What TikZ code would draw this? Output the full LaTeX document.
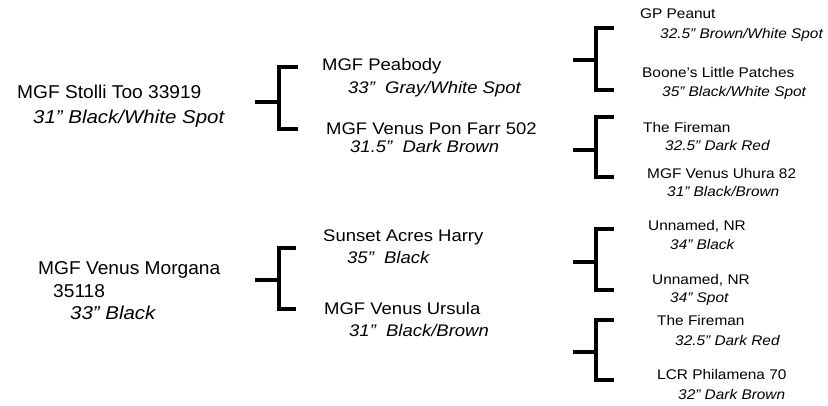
\documentclass[tikz,border=0pt]{standalone}
\usepackage{fontspec}
\setmainfont{Liberation Sans}[FakeStretch=1.1]
\newfontfamily\bigfont{Liberation Sans}[FakeStretch=1.03]
\begin{document}
\begin{tikzpicture}[x=1pt,y=-1pt,
  br/.style={line width=3.6pt, line join=miter},
  tA/.style={anchor=base west, inner sep=0pt, font=\bigfont\fontsize{18.6}{22}\selectfont},
  tAi/.style={tA, font=\fontsize{18.6}{22}\selectfont\itshape},
  tB/.style={anchor=base west, inner sep=0pt, font=\fontsize{16.8}{20}\selectfont},
  tBi/.style={tB, font=\fontsize{16.8}{20}\selectfont\itshape},
  tC/.style={anchor=base west, inner sep=0pt, font=\fontsize{14}{17}\selectfont},
  tCi/.style={tC, font=\fontsize{14}{17}\selectfont\itshape}]
\useasboundingbox (0,0) rectangle (828,405);
\fill[white] (0,0) rectangle (828,405);

% level 0
\node[tA] (s0) at (17,98) {MGF Stolli Too 33919};
\node[tAi] (s0c) at (33,123) {31” Black/White Spot};
\node[tA] (d0) at (38,274) {MGF Venus Morgana};
\node[tA] (d0n) at (53,297) {35118};
\node[tAi] (d0c) at (70,319) {33” Black};

% level 1
\node[tB] (s1) at (322,70) {MGF Peabody};
\node[tBi] (s1c) at (348,93) {33”\ \ Gray/White Spot};
\node[tB] (d1) at (326,134) {MGF Venus Pon Farr 502};
\node[tBi] (d1c) at (350,152) {31.5”\ \ Dark Brown};
\node[tB] (s2) at (323,241) {Sunset Acres Harry};
\node[tBi] (s2c) at (347,263) {35”\ \ Black};
\node[tB] (d2) at (324,314) {MGF Venus Ursula};
\node[tBi] (d2c) at (349,336) {31”\ \ Black/Brown};

% level 2
\node[tC] (g1) at (640,18) {GP Peanut};
\node[tCi] (g1c) at (660,38) {32.5” Brown/White Spot};
\node[tC] (g2) at (642,77) {Boone’s Little Patches};
\node[tCi] (g2c) at (662,96) {35” Black/White Spot};
\node[tC] (g3) at (643,132) {The Fireman};
\node[tCi] (g3c) at (665,150) {32.5” Dark Red};
\node[tC] (g4) at (647,178) {MGF Venus Uhura 82};
\node[tCi] (g4c) at (667,196) {31” Black/Brown};
\node[tC] (g5) at (648,230) {Unnamed, NR};
\node[tCi] (g5c) at (670,249) {34” Black};
\node[tC] (g6) at (652,284) {Unnamed, NR};
\node[tCi] (g6c) at (670,302) {34” Spot};
\node[tC] (g7) at (657,325) {The Fireman};
\node[tCi] (g7c) at (675,345) {32.5” Dark Red};
\node[tC] (g8) at (657,379) {LCR Philamena 70};
\node[tCi] (g8c) at (678,399) {32” Dark Brown};

% bracket coordinates
\coordinate (b1s) at (255,102); \coordinate (b1t) at (279,67); \coordinate (b1b) at (279,129); \coordinate (b1m) at (279,102);
\coordinate (b2s) at (255,280); \coordinate (b2t) at (279,248); \coordinate (b2b) at (279,309); \coordinate (b2m) at (279,280);
\draw[br] (b1s) -- (b1m);
\draw[br] ([xshift=19pt]b1t) -- (b1t) -- (b1b) -- ([xshift=19pt]b1b);
\draw[br] (b2s) -- (b2m);
\draw[br] ([xshift=17pt]b2t) -- (b2t) -- (b2b) -- ([xshift=17pt]b2b);

\foreach \n/\t/\m/\b in {A/28/60/90, B/117/150/177, C/229/262/290, D/320/352/380}{
  \coordinate (c\n s) at (573,\m);
  \coordinate (c\n m) at (596,\m);
  \coordinate (c\n t) at (596,\t);
  \coordinate (c\n b) at (596,\b);
  \draw[br] (c\n s) -- (c\n m);
  \draw[br] ([xshift=18pt]c\n t) -- (c\n t) -- (c\n b) -- ([xshift=18pt]c\n b);
}
\end{tikzpicture}
\end{document}
